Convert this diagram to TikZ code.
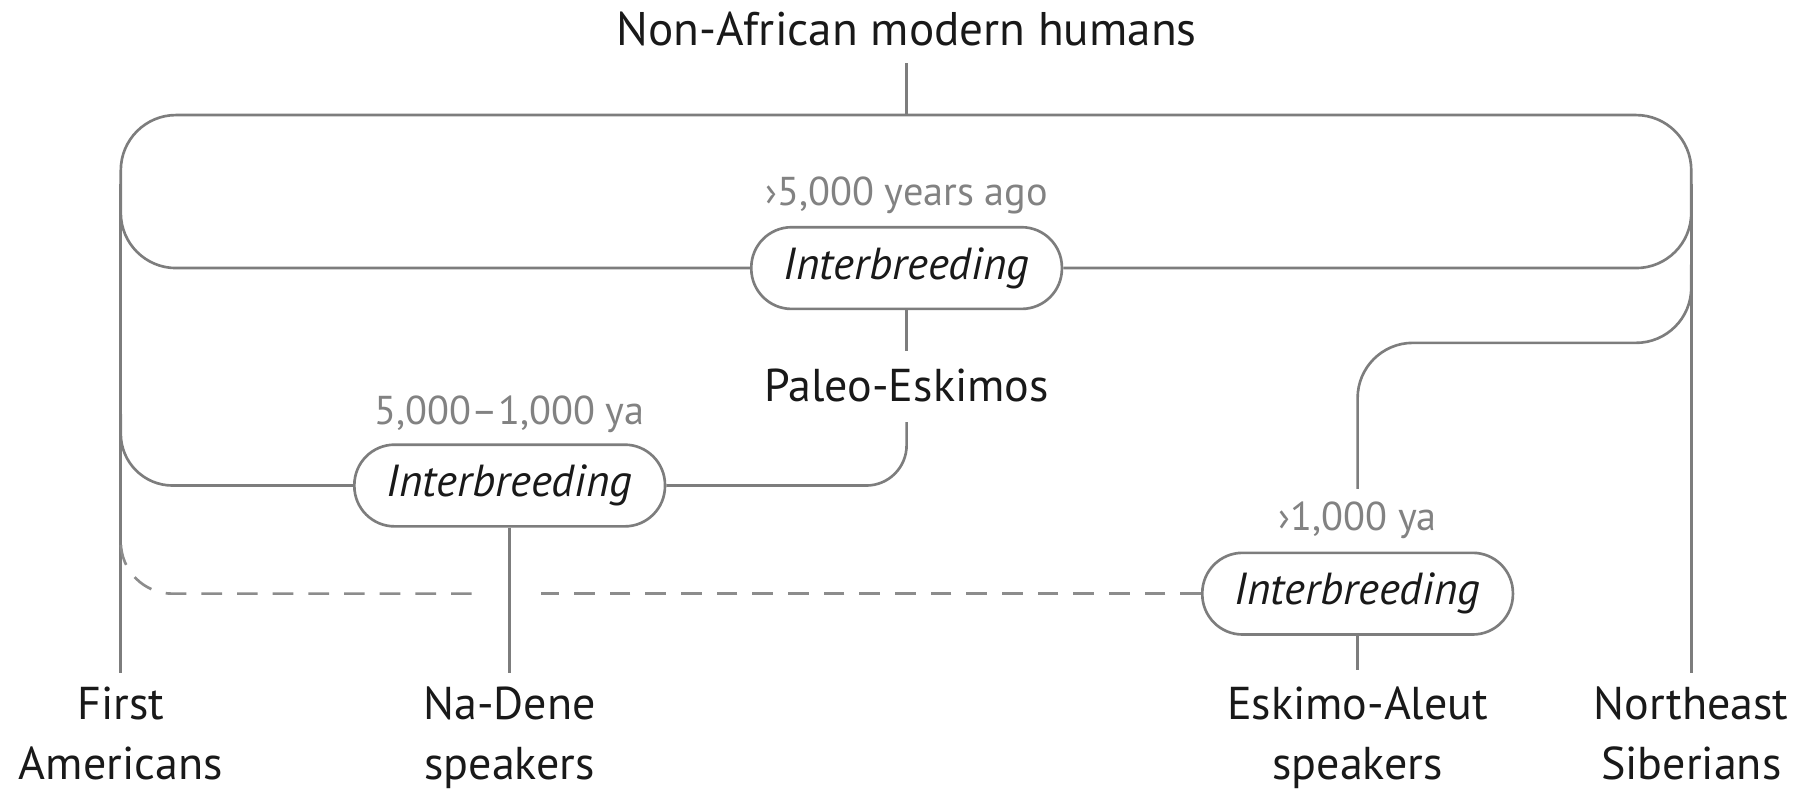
\documentclass[tikz,border=0pt]{standalone}
\usepackage{fontspec}
\setmainfont{PT Sans}
\begin{document}
\begin{tikzpicture}[x=1pt,y=-1pt,
  line/.style={draw=linegrey,line width=2.3pt},
  dline/.style={draw=dashgrey,line width=2.3pt,dash pattern=on 18pt off 13pt},
  ibox/.style={draw=linegrey,line width=2.3pt,fill=white,rounded corners=35pt,
    minimum width=270pt,minimum height=71pt,inner sep=0pt,
    font=\fontsize{39}{44}\selectfont\itshape,text=black!90},
  when/.style={font=\fontsize{35}{40}\selectfont,text=labgrey},
  pop/.style={font=\fontsize{40}{52}\selectfont,text=black!90,align=center,inner sep=0pt}]
\definecolor{linegrey}{RGB}{125,125,125}
\definecolor{dashgrey}{RGB}{140,140,140}
\definecolor{labgrey}{RGB}{130,130,130}
\useasboundingbox (0,0) rectangle (1568,688);
% nodes
\node[pop,font=\fontsize{41}{50}\selectfont] (top) at (788,25) {Non-African modern humans};
\node[ibox] (n1) at (788,233) {Interbreeding};
\node[when] (w1) at (788,170) {›5,000 years ago};
\node[pop] (paleo) at (788,335) {Paleo-Eskimos};
\node[ibox] (n2) at (443,422) {Interbreeding};
\node[when] (w2) at (443,360) {5,000–1,000 ya};
\node[ibox] (n3) at (1180,516) {Interbreeding};
\node[when] (w3) at (1180,452) {›1,000 ya};
\node[pop,anchor=north] (fa) at (105,597) {First\\Americans};
\node[pop,anchor=north] (nd) at (443,597) {Na-Dene\\speakers};
\node[pop,anchor=north] (ea) at (1180,597) {Eskimo-Aleut\\speakers};
\node[pop,anchor=north] (ns) at (1470,597) {Northeast\\Siberians};
\coordinate (stemtop) at (788,55);
\coordinate (lt) at (105,160);
\coordinate (rt) at (1470,160);
\coordinate (rend) at (1180,425);
\coordinate (dgapL) at (410,516);
\coordinate (dgapR) at (470,516);
% connectors
\draw[line] (stemtop) -- (788,100);
\draw[line,rounded corners=48pt] (n1.west) -- (105,233) -- (105,100) -- (1470,100) -- (1470,233) -- (n1.east);
\draw[line] (lt) -- (105,585);
\draw[line] (rt) -- (1470,585);
\draw[line] (n1.south) -- (788,305);
\draw[line,rounded corners=35pt] (788,367) -- (788,422) -- (n2.east);
\draw[line,rounded corners=45pt] (105,360) -- (105,422) -- (n2.west);
\draw[line] (n2.south) -- (443,585);
\draw[line,rounded corners=48pt] (1470,230) -- (1470,298) -- (1180,298) -- (rend);
\draw[line] (n3.south) -- (1180,582);
\draw[dline] (n3.west) -- (dgapR);
\draw[dline,rounded corners=45pt] (dgapL) -- (105,516) -- (105,470);
\end{tikzpicture}
\end{document}
